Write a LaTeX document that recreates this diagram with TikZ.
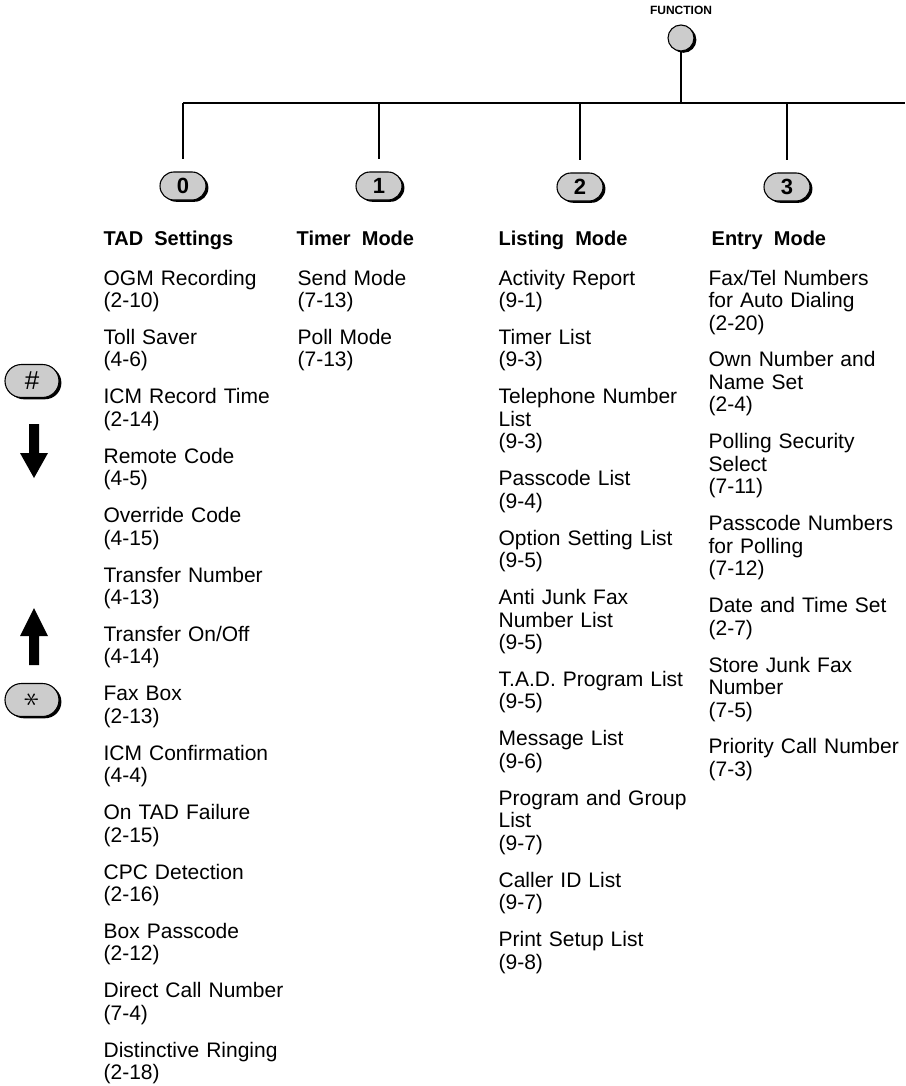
\documentclass[tikz,border=0pt]{standalone}
\usepackage{fontspec}
\setmainfont{Liberation Sans}
\usepackage{graphicx}
\usetikzlibrary{shapes.misc,shadows}
\definecolor{keygray}{RGB}{204,204,204}
\newcommand\nx{\\[14.4pt]}

\begin{document}
\begin{tikzpicture}[x=1pt,y=-1pt,line width=1.3pt,
  keyshadow/.style={drop shadow={shadow xshift=2.4pt,shadow yshift=-1.8pt,fill=black,opacity=1}},
  key/.style={rounded rectangle,draw,fill=keygray,minimum width=46pt,minimum height=28pt,
    inner sep=0pt,line width=1.1pt,keyshadow,font=\fontsize{22}{22}\selectfont\bfseries},
  head/.style={anchor=base west,inner sep=0pt,font=\fontsize{20}{22}\selectfont\bfseries},
  menu/.style={anchor=base west,align=left,text width=195pt,inner sep=0pt,
    font=\fontsize{21}{22.5}\selectfont}]
\useasboundingbox (0,0) rectangle (905,1086);

% function key and the bus
\node[anchor=base,inner sep=0pt,font=\fontsize{12}{12}\selectfont\bfseries] (fnlabel) at (681,15) {FUNCTION};
\node[circle,draw,fill=keygray,minimum size=26pt,inner sep=0pt,line width=1.1pt,keyshadow] (fn) at (681,38) {};
\coordinate (bus) at (0,103);
\coordinate (busend) at (905,103);

\node[key] (k0) at (183,186) {0};
\node[key] (k1) at (379,186) {1};
\node[key] (k2) at (580,187) {2};
\node[key] (k3) at (787,187) {3};

\draw (fn) -- (fn |- bus);
\draw (k0 |- bus) -- (busend);
\foreach \k in {k0,k1,k2,k3}
  \draw (\k |- bus) -- ([yshift=12pt]\k.north);

% scroll keys
\node[key,minimum width=54pt,minimum height=33pt,font=\fontsize{26}{26}\selectfont] (hash) at (32,381) {\#};
\node[key,minimum width=54pt,minimum height=33pt,font=\fontsize{22}{22}\selectfont] (star) at (32,700) {\scalebox{1.5}{\rotatebox{90}{$\ast$}}};
\fill (29,424) -- (39,424) -- (39,453) -- (48,453) -- (34,478) -- (20,453) -- (29,453) -- cycle;
\fill (34,608) -- (48,636) -- (39,636) -- (39,665) -- (29,665) -- (29,636) -- (20,636) -- cycle;

% menu columns
\node[head] (h0) at (103,245) {TAD~ Settings};
\node[head] (h1) at (296,245) {Timer~ Mode};
\node[head] (h2) at (498,245) {Listing~ Mode};
\node[head] (h3) at (711,245) {Entry~ Mode};

\node[menu] (m0) at (103,285) {OGM Recording\\(2-10)\nx Toll Saver\\(4-6)\nx
  ICM Record Time\\(2-14)\nx Remote Code\\(4-5)\nx Override Code\\(4-15)\nx
  Transfer Number\\(4-13)\nx Transfer On/Off\\(4-14)\nx Fax Box\\(2-13)\nx
  ICM Confirmation\\(4-4)\nx On TAD Failure\\(2-15)\nx CPC Detection\\(2-16)\nx
  Box Passcode\\(2-12)\nx Direct Call Number\\(7-4)\nx Distinctive Ringing\\(2-18)};
\node[menu] (m1) at (297,285) {Send Mode\\(7-13)\nx Poll Mode\\(7-13)};
\node[menu] (m2) at (498,285) {Activity Report\\(9-1)\nx Timer List\\(9-3)\nx
  Telephone Number\\List\\(9-3)\nx Passcode List\\(9-4)\nx Option Setting List\\(9-5)\nx
  Anti Junk Fax\\Number List\\(9-5)\nx T.A.D. Program List\\(9-5)\nx Message List\\(9-6)\nx
  Program and Group\\List\\(9-7)\nx Caller ID List\\(9-7)\nx Print Setup List\\(9-8)};
\node[menu] (m3) at (708,285) {Fax/Tel Numbers\\for Auto Dialing\\(2-20)\nx
  Own Number and\\Name Set\\(2-4)\nx Polling Security\\Select\\(7-11)\nx
  Passcode Numbers\\for Polling\\(7-12)\nx Date and Time Set\\(2-7)\nx
  Store Junk Fax\\Number\\(7-5)\nx Priority Call Number\\(7-3)};
\end{tikzpicture}
\end{document}
